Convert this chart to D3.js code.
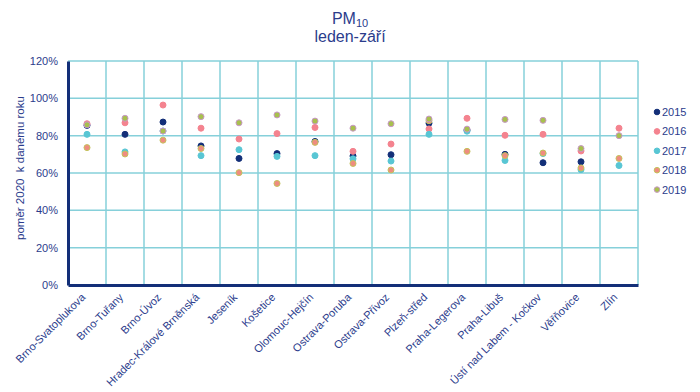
<!DOCTYPE html>
<html>
<head>
<meta charset="utf-8">
<script src="https://cdn.jsdelivr.net/npm/d3@7"></script>
<style>
  body { margin: 0; background: #fff; }
  text { font-family: "Liberation Sans", Arial, sans-serif; fill: #2b3c8c; }
</style>
</head>
<body>
<svg id="chart"></svg>
<script>
const stations = ["Brno-Svatoplukova", "Brno-Tuřany", "Brno-Úvoz", "Hradec-Králové Brněnská", "Jeseník",
  "Košetice", "Olomouc-Hejčín", "Ostrava-Poruba", "Ostrava-Přívoz", "Plzeň-střed",
  "Praha-Legerova", "Praha-Libuš", "Ústí nad Labem - Kočkov", "Věřňovice", "Zlín"];
const years = ["2015", "2016", "2017", "2018", "2019"];

const v2015 = [85.5, 80.7, 87.3, 74.5, 67.8, 70.4, 76.9, 69.1, 69.8, 86.7, 83.0, 70.0, 65.5, 66.0, null];
const v2016 = [86.4, 86.9, 96.4, 84.0, 78.2, 81.1, 84.4, 71.6, 75.5, 83.6, 89.3, 80.2, 80.7, 71.8, 84.0];
const v2017 = [80.7, 71.3, 82.5, 69.3, 72.5, 68.9, 69.3, 67.6, 66.4, 80.7, 82.4, 66.7, 70.4, 61.8, 64.0];
const v2018 = [73.6, 70.2, 77.6, 73.1, 60.2, 54.4, 76.4, 65.1, 61.6, 88.0, 71.6, 69.3, 70.7, 62.7, 67.8];
const v2019 = [85.8, 89.3, 82.5, 90.2, 86.9, 91.1, 87.8, 84.0, 86.4, 88.9, 83.5, 88.7, 88.2, 73.1, 80.0];

const yTicks = [0, 20, 40, 60, 80, 100, 120];

const series = [
  { year: years[0], values: v2015, fill: "#132f78", stroke: "#132f78" },
  { year: years[1], values: v2016, fill: "#f4838f", stroke: "#f4838f" },
  { year: years[2], values: v2017, fill: "#58c6d4", stroke: "#58c6d4" },
  { year: years[3], values: v2018, fill: "#ef8c80", stroke: "#c4c35c" },
  { year: years[4], values: v2019, fill: "#a8c04e", stroke: "#c898c6" }
];

const width = 700, height = 392;
const margin = { left: 68, right: 62, top: 61, bottom: 107 };

const svg = d3.select("#chart").attr("width", width).attr("height", height);

const x = d3.scaleBand().domain(stations).range([margin.left, width - margin.right]);
const y = d3.scaleLinear().domain([0, 120]).range([height - margin.bottom, margin.top]);

// grid
svg.append("g")
  .selectAll("line")
  .data(yTicks.slice(1))
  .join("line")
  .attr("x1", margin.left).attr("x2", width - margin.right)
  .attr("y1", d => y(d)).attr("y2", d => y(d))
  .attr("stroke", "#86d0da").attr("stroke-width", 1.5);

svg.append("g")
  .selectAll("line")
  .data(stations)
  .join("line")
  .attr("x1", d => x(d) + x.bandwidth()).attr("x2", d => x(d) + x.bandwidth())
  .attr("y1", y(120)).attr("y2", y(0))
  .attr("stroke", "#86d0da").attr("stroke-width", 1.5);

// y axis
const yAxis = svg.append("g")
  .attr("transform", `translate(${margin.left},0)`)
  .call(d3.axisLeft(y).tickValues(yTicks).tickSize(0).tickPadding(10).tickFormat(d => d + "%"));
yAxis.select(".domain").attr("stroke", "#132f78").attr("stroke-width", 3);
yAxis.selectAll("text").attr("font-size", 11).style("font-family", "Liberation Sans, Arial, sans-serif").attr("fill", "#2b3c8c");

// x axis
const xAxis = svg.append("g")
  .attr("transform", `translate(0,${y(0)})`)
  .call(d3.axisBottom(x).tickSize(0).tickPadding(0));
xAxis.select(".domain").attr("stroke", "#132f78").attr("stroke-width", 3);
xAxis.selectAll("text")
  .attr("font-size", 11)
  .style("font-family", "Liberation Sans, Arial, sans-serif")
  .attr("fill", "#2b3c8c")
  .attr("text-anchor", "end")
  .attr("dy", 0)
  .attr("transform", "translate(-1,13) rotate(-45)");

// points
series.forEach(s => {
  svg.append("g")
    .selectAll("circle")
    .data(s.values.map((v, i) => ({ v, st: stations[i] })).filter(d => d.v != null))
    .join("circle")
    .attr("cx", d => x(d.st) + x.bandwidth() / 2)
    .attr("cy", d => y(d.v))
    .attr("r", 3)
    .attr("fill", s.fill)
    .attr("stroke", s.stroke)
    .attr("stroke-width", 1);
});

// legend
const legend = svg.append("g");
series.forEach((s, i) => {
  const ly = 112 + i * 19.4;
  legend.append("circle").attr("cx", 657).attr("cy", ly).attr("r", 2.8)
    .attr("fill", s.fill).attr("stroke", s.stroke).attr("stroke-width", 1);
  legend.append("text").attr("x", 662).attr("y", ly + 4).attr("font-size", 11).text(s.year);
});

// title
const title = svg.append("text").attr("x", 350).attr("y", 24).attr("text-anchor", "middle").attr("font-size", 16);
title.append("tspan").text("PM");
title.append("tspan").attr("font-size", 11).attr("dy", 3).text("10");
svg.append("text").attr("x", 350).attr("y", 42).attr("text-anchor", "middle").attr("font-size", 16).text("leden-září");

// y label
svg.append("text")
  .attr("transform", `translate(24,${(y(0) + y(120)) / 2 - 5}) rotate(-90)`)
  .attr("text-anchor", "middle")
  .attr("font-size", 11.5)
  .attr("xml:space", "preserve")
  .text("poměr 2020  k danému roku");
</script>
</body>
</html>
